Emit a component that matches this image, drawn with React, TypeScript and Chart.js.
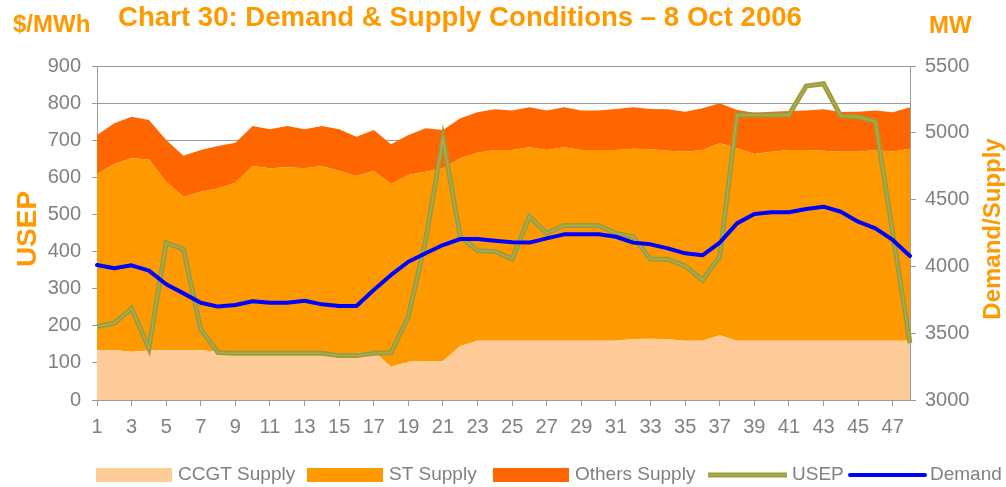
import { useEffect, useRef } from 'react';
import { Chart, registerables } from 'chart.js';

Chart.register(...registerables);

// ---- data ----
const periods = ['1','2','3','4','5','6','7','8','9','10','11','12','13','14','15','16','17','18','19','20','21','22','23','24','25','26','27','28','29','30','31','32','33','34','35','36','37','38','39','40','41','42','43','44','45','46','47','48'];

// Supply (MW, stacked; drawn on the MW axis which starts at 3000)
const ccgtSupply = [3374,3374,3362,3370,3374,3374,3374,3360,3355,3355,3355,3360,3365,3358,3352,3352,3365,3249,3287,3292,3292,3404,3444,3444,3444,3444,3444,3444,3444,3444,3444,3457,3459,3455,3444,3444,3484,3444,3444,3444,3444,3444,3444,3444,3444,3444,3444,3444];
const stSupply = [1318,1392,1447,1431,1260,1148,1185,1224,1272,1396,1379,1382,1369,1393,1364,1325,1349,1368,1397,1417,1442,1405,1407,1427,1427,1447,1427,1447,1427,1427,1427,1424,1417,1411,1415,1427,1437,1440,1397,1415,1427,1427,1422,1415,1415,1427,1415,1437];
const othersSupply = [292,305,312,295,312,307,312,317,299,300,292,309,292,300,310,294,307,297,300,325,287,299,302,305,295,300,295,300,295,295,307,310,302,310,299,312,300,287,310,299,292,295,310,297,299,295,294,310];

// USEP ($/MWh)
const usep = [198,207,247,139,424,406,190,128,126,126,126,126,126,126,120,120,126,127,225,431,705,440,402,400,380,494,449,470,470,470,449,440,379,379,361,323,386,768,768,768,768,846,852,765,763,750,449,153];

// Demand (MW)
const demand = [4010,3986,4008,3968,3866,3798,3728,3699,3711,3739,3728,3728,3743,3716,3704,3704,3823,3936,4035,4098,4160,4205,4205,4192,4180,4178,4210,4240,4240,4240,4222,4178,4165,4135,4098,4083,4178,4322,4392,4405,4405,4430,4447,4409,4335,4285,4198,4078];

const leftTicks = { min: 0, max: 900, step: 100 };
const rightTicks = { min: 3000, max: 5500, step: 500 };

const TITLE = 'Chart 30: Demand & Supply Conditions \u2013 8 Oct 2006';
const LEFT_UNIT = '$/MWh';
const RIGHT_UNIT = 'MW';
const LEFT_TITLE = 'USEP';
const RIGHT_TITLE = 'Demand/Supply';

// ---- styles ----
const FONT = "'Liberation Sans', Arial, Helvetica, sans-serif";
const ORANGE = '#FF9900';
const GRAY_TEXT = '#808080';
const GRID = '#9a9a9a';
const C_CCGT = '#FFCC99';
const C_ST = '#FF9900';
const C_OTHERS = '#FF6600';
const C_USEP = '#9C9C3A';
const C_USEP_IN = '#ABAB52';
const C_DEMAND = '#0000FF';

const legendItems = [
  { label: 'CCGT Supply', kind: 'box', color: C_CCGT, x: 96 },
  { label: 'ST Supply', kind: 'box', color: C_ST, x: 307 },
  { label: 'Others Supply', kind: 'box', color: C_OTHERS, x: 493 },
  { label: 'USEP', kind: 'usep', color: C_USEP, x: 708 },
  { label: 'Demand', kind: 'line', color: C_DEMAND, x: 848 },
];

const decorPlugin = {
  id: 'decor',
  afterDraw(chart: any) {
    const ctx = chart.ctx as CanvasRenderingContext2D;
    const area = chart.chartArea;
    ctx.save();
    ctx.fillStyle = ORANGE;
    ctx.textBaseline = 'middle';
    // title
    ctx.font = `bold 27.6px ${FONT}`;
    ctx.textAlign = 'center';
    ctx.fillText(TITLE, 460, 18);
    // unit labels
    ctx.font = `bold 24px ${FONT}`;
    ctx.textAlign = 'left';
    ctx.fillText(LEFT_UNIT, 13, 25);
    ctx.fillText(RIGHT_UNIT, 929, 26);
    // rotated axis titles
    const midY = (area.top + area.bottom) / 2 - 4;
    ctx.save();
    ctx.translate(28, midY);
    ctx.rotate(-Math.PI / 2);
    ctx.textAlign = 'center';
    ctx.font = `bold 28px ${FONT}`;
    ctx.fillText(LEFT_TITLE, 0, 0);
    ctx.restore();
    ctx.save();
    ctx.translate(993, midY);
    ctx.rotate(-Math.PI / 2);
    ctx.textAlign = 'center';
    ctx.font = `bold 24px ${FONT}`;
    ctx.fillText(RIGHT_TITLE, 0, 0);
    ctx.restore();

    // legend
    const ly = 475;
    ctx.font = `19px ${FONT}`;
    ctx.textAlign = 'left';
    for (const it of legendItems) {
      let textX;
      if (it.kind === 'box') {
        ctx.fillStyle = it.color;
        ctx.fillRect(it.x, ly - 7, 76, 14);
        textX = it.x + 82;
      } else {
        const x1 = it.x + 2, x2 = it.x + 77;
        ctx.lineCap = it.kind === 'line' ? 'round' : 'butt';
        ctx.strokeStyle = it.color;
        ctx.lineWidth = it.kind === 'line' ? 4 : 5;
        ctx.beginPath(); ctx.moveTo(it.kind === 'line' ? x1 : it.x, ly); ctx.lineTo(it.kind === 'line' ? x2 : it.x + 79, ly); ctx.stroke();
        if (it.kind === 'usep') {
          ctx.strokeStyle = C_USEP_IN;
          ctx.lineWidth = 1.5;
          ctx.beginPath(); ctx.moveTo(it.x, ly); ctx.lineTo(it.x + 79, ly); ctx.stroke();
        }
        textX = it.x + (it.kind === 'usep' ? 84 : 82);
      }
      ctx.fillStyle = GRAY_TEXT;
      ctx.fillText(it.label, textX, ly);
    }
    ctx.restore();
  },
};

export default function App() {
  const ref = useRef<HTMLCanvasElement | null>(null);

  useEffect(() => {
    document.body.style.margin = '0';
    if (!ref.current) return;
    const tickFont = { family: FONT, size: 20 };
    const chart = new Chart(ref.current, {
      type: 'line',
      data: {
        labels: periods,
        datasets: [
          { label: 'CCGT Supply', data: ccgtSupply, yAxisID: 'y2', stack: 'supply', backgroundColor: C_CCGT, borderWidth: 0, fill: 'start', order: 10, pointRadius: 0 },
          { label: 'ST Supply', data: stSupply, yAxisID: 'y2', stack: 'supply', backgroundColor: C_ST, borderWidth: 0, fill: '-1', order: 10, pointRadius: 0 },
          { label: 'Others Supply', data: othersSupply, yAxisID: 'y2', stack: 'supply', backgroundColor: C_OTHERS, borderWidth: 0, fill: '-1', order: 10, pointRadius: 0 },
          { label: 'USEP', data: usep, yAxisID: 'y', borderColor: C_USEP, borderWidth: 5, fill: false, order: 2, pointRadius: 0 },
          { label: 'USEP inner', data: usep, yAxisID: 'y', borderColor: C_USEP_IN, borderWidth: 1.5, fill: false, order: 1, pointRadius: 0 },
          { label: 'Demand', data: demand, yAxisID: 'y2', stack: 'demand', borderColor: C_DEMAND, borderWidth: 4, fill: false, order: 0, pointRadius: 0, borderCapStyle: 'round', borderJoinStyle: 'round' },
        ] as any,
      },
      options: {
        responsive: false,
        animation: false,
        devicePixelRatio: 1,
        layout: { padding: { top: 66, left: 0, right: 0, bottom: 0 } },
        plugins: { legend: { display: false }, title: { display: false }, tooltip: { enabled: false } },
        elements: { line: { tension: 0 }, point: { radius: 0 } },
        scales: {
          x: {
            type: 'category',
            offset: false,
            grid: { drawOnChartArea: false, color: GRID, tickLength: 6 },
            border: { color: GRID },
            ticks: {
              autoSkip: false, maxRotation: 0, minRotation: 0, padding: 9, color: GRAY_TEXT, font: tickFont,
              callback: (_v: any, i: number) => (i % 2 === 0 ? periods[i] : null),
            },
            afterFit: (s: any) => { s.height = 87; },
          },
          y: {
            position: 'left',
            min: leftTicks.min, max: leftTicks.max,
            ticks: { stepSize: leftTicks.step, padding: 11, color: GRAY_TEXT, font: tickFont, callback: (v: any) => String(v) },
            grid: { color: GRID, tickLength: 5 },
            border: { color: GRID },
            afterFit: (s: any) => { s.width = 97; },
          },
          y2: {
            position: 'right',
            stacked: true,
            min: rightTicks.min, max: rightTicks.max,
            ticks: { stepSize: rightTicks.step, padding: 9, color: GRAY_TEXT, font: tickFont, callback: (v: any) => String(v) },
            grid: { drawOnChartArea: false, color: GRID, tickLength: 6 },
            border: { color: GRID },
            afterFit: (s: any) => { s.width = 96; },
          },
        },
      } as any,
      plugins: [decorPlugin],
    });
    return () => chart.destroy();
  }, []);

  return (
    <div style={{ width: 1006, height: 487 }}>
      <canvas ref={ref} width={1006} height={487} style={{ display: 'block', width: 1006, height: 487 }} />
    </div>
  );
}
